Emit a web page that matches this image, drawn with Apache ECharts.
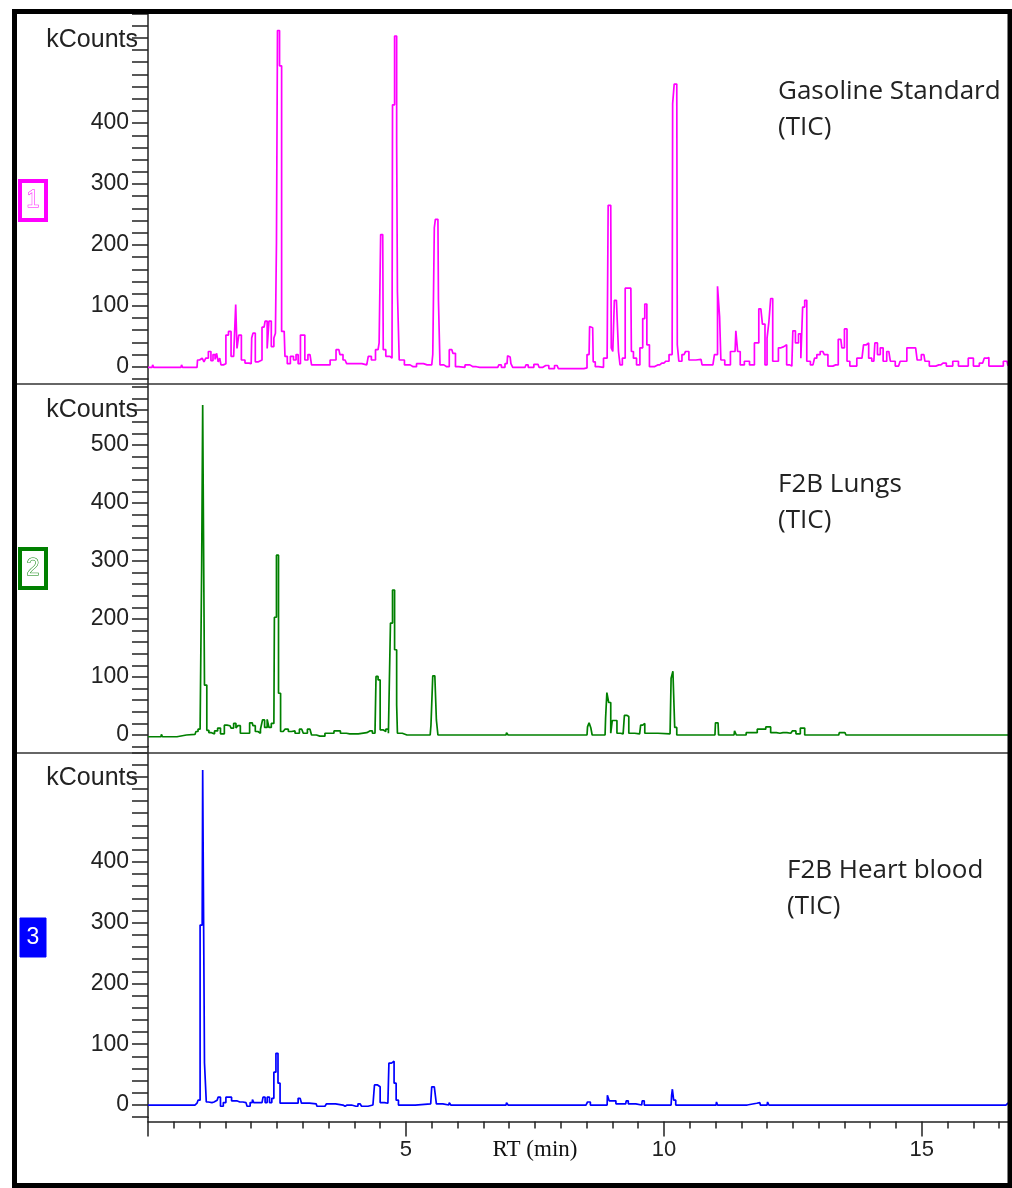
<!DOCTYPE html>
<html>
<head>
<meta charset="utf-8">
<script src="https://cdn.jsdelivr.net/npm/echarts@6/dist/echarts.min.js"></script>
<style>
  html, body { margin: 0; padding: 0; background: #ffffff; }
  #chart { width: 1012px; height: 1188px; }
</style>
</head>
<body>
<div id="chart"></div>
<script>
// Total ion chromatograms: [retention time (min), intensity (kCounts)]
const gasolineStandard = [
  [0.00,-1],[0.08,-1],[0.10,3],[0.12,-1],[0.64,-1],[0.66,3],[0.68,-1],[0.95,-1],[0.97,11],[1.03,14],
  [1.07,17],[1.10,8],[1.14,14],[1.20,25],[1.24,10],[1.28,20],[1.32,12],[1.34,22],[1.38,8],[1.40,14],
  [1.43,3],[1.49,5],[1.53,52],[1.59,58],[1.63,17],[1.69,20],[1.71,102],[1.74,30],[1.78,52],[1.84,11],
  [1.92,6],[2.00,5],[2.02,47],[2.05,55],[2.11,8],[2.17,11],[2.25,65],[2.29,75],[2.33,30],[2.36,75],
  [2.42,33],[2.46,47],[2.48,55],[2.50,202],[2.52,552],[2.54,552],[2.56,494],[2.58,494],[2.60,58],[2.64,58],
  [2.67,17],[2.73,5],[2.79,17],[2.85,11],[2.89,20],[2.93,5],[2.98,52],[3.02,52],[3.06,11],[3.14,20],
  [3.20,3],[3.33,3],[3.47,3],[3.59,11],[3.70,28],[3.74,20],[3.82,11],[3.88,5],[4.05,5],[4.24,3],
  [4.30,17],[4.36,11],[4.46,28],[4.50,39],[4.52,217],[4.55,217],[4.57,28],[4.65,17],[4.73,14],[4.75,430],
  [4.77,430],[4.79,543],[4.81,543],[4.83,368],[4.84,123],[4.86,123],[4.88,11],[4.92,11],[5.02,3],[5.14,0],
  [5.27,5],[5.41,3],[5.50,3],[5.54,20],[5.56,228],[5.58,242],[5.62,242],[5.64,110],[5.68,3],[5.79,0],
  [5.89,28],[5.93,22],[5.99,0],[6.05,-1],[6.24,3],[6.30,0],[6.43,-1],[6.78,-1],[6.82,3],[6.88,-1],
  [6.96,5],[6.98,18],[7.02,16],[7.05,5],[7.09,-1],[7.31,-1],[7.34,3],[7.40,-1],[7.56,4],[7.60,-1],
  [7.71,2],[7.83,-3],[7.93,2],[7.98,-3],[8.45,-3],[8.47,-2],[8.55,20],[8.57,66],[8.62,64],[8.64,8],
  [8.70,0],[8.76,-1],[8.90,14],[8.91,82],[8.93,265],[8.97,265],[8.99,31],[9.03,25],[9.05,109],[9.11,112],
  [9.13,25],[9.17,3],[9.22,14],[9.28,129],[9.36,129],[9.38,25],[9.44,14],[9.50,3],[9.57,31],[9.61,79],
  [9.65,103],[9.69,36],[9.75,0],[9.88,3],[9.96,6],[10.04,9],[10.16,20],[10.18,432],[10.19,432],[10.21,464],
  [10.25,464],[10.27,36],[10.31,9],[10.39,20],[10.45,25],[10.52,11],[10.72,12],[10.76,3],[10.95,3],[11.01,20],
  [11.07,132],[11.09,82],[11.12,11],[11.24,3],[11.34,25],[11.38,25],[11.41,59],[11.45,25],[11.51,3],[11.61,9],
  [11.71,3],[11.80,39],[11.88,95],[11.94,70],[11.98,3],[12.02,47],[12.05,73],[12.09,112],[12.13,9],[12.19,9],
  [12.25,31],[12.29,33],[12.36,36],[12.40,3],[12.48,1],[12.52,59],[12.58,39],[12.64,54],[12.67,14],[12.71,98],
  [12.75,109],[12.79,9],[12.89,3],[12.95,14],[12.98,20],[13.08,25],[13.14,20],[13.22,1],[13.33,3],[13.43,45],
  [13.47,31],[13.53,62],[13.57,9],[13.64,1],[13.84,14],[13.90,36],[13.95,39],[13.99,14],[14.07,9],[14.11,39],
  [14.17,20],[14.22,31],[14.28,9],[14.36,25],[14.42,9],[14.55,1],[14.61,9],[14.81,31],[14.88,31],[14.94,11],
  [15.04,20],[15.08,9],[15.21,1],[15.33,3],[15.41,6],[15.54,1],[15.66,9],[15.76,1],[15.85,1],[15.95,14],
  [16.05,1],[16.18,6],[16.24,14],[16.28,15],[16.32,1],[16.41,1],[16.51,1],[16.65,9],[16.69,2]
];

const lungs = [
  [0.00,-3],[0.25,-3],[0.27,1],[0.29,-3],[0.56,-3],[0.58,0],[0.91,1],[0.95,6],[0.99,10],[1.03,10],
  [1.05,287],[1.07,569],[1.09,569],[1.10,86],[1.12,86],[1.16,8],[1.20,4],[1.26,2],[1.32,7],[1.38,12],
  [1.43,2],[1.53,17],[1.59,16],[1.63,12],[1.69,20],[1.72,12],[1.76,16],[1.82,3],[1.92,3],[2.02,21],
  [2.05,16],[2.11,6],[2.15,3],[2.21,10],[2.23,26],[2.29,13],[2.33,27],[2.36,13],[2.42,20],[2.44,20],
  [2.46,203],[2.48,203],[2.50,310],[2.52,310],[2.54,72],[2.56,72],[2.58,6],[2.62,6],[2.69,10],[2.75,6],
  [2.81,7],[2.89,3],[2.98,10],[3.04,3],[3.14,10],[3.20,0],[3.33,-2],[3.53,3],[3.68,7],[3.78,3],
  [3.91,2],[4.24,4],[4.30,7],[4.40,3],[4.44,101],[4.48,95],[4.52,9],[4.59,6],[4.63,10],[4.69,3],
  [4.71,193],[4.73,193],[4.75,250],[4.77,250],[4.79,147],[4.81,147],[4.83,52],[4.84,3],[5.02,0],[5.47,0],
  [5.50,17],[5.54,102],[5.58,103],[5.60,26],[5.64,0],[6.94,0],[6.96,4],[7.00,0],[8.51,0],[8.53,14],
  [8.57,21],[8.60,12],[8.62,0],[8.86,0],[8.88,29],[8.91,73],[8.95,56],[8.99,3],[9.01,25],[9.07,25],
  [9.11,3],[9.21,2],[9.26,34],[9.30,32],[9.34,3],[9.53,2],[9.57,17],[9.61,20],[9.65,3],[10.12,2],
  [10.16,98],[10.19,110],[10.23,13],[10.27,0],[10.99,0],[11.01,21],[11.05,21],[11.07,0],[11.36,0],[11.38,7],
  [11.43,0],[11.76,4],[11.86,10],[11.92,10],[12.03,14],[12.11,4],[12.25,3],[12.31,4],[12.46,3],[12.52,7],
  [12.60,2],[12.69,12],[12.77,0],[13.39,0],[13.41,4],[13.51,4],[13.55,0],[16.69,0]
];

const heartBlood = [
  [0.00,0],[0.91,0],[0.95,3],[0.99,8],[1.03,296],[1.05,296],[1.07,551],[1.09,551],[1.10,69],[1.12,69],
  [1.14,5],[1.20,4],[1.28,5],[1.34,8],[1.38,13],[1.43,-2],[1.49,4],[1.53,13],[1.59,13],[1.65,7],
  [1.69,9],[1.72,7],[1.78,5],[1.90,4],[1.94,-2],[2.02,4],[2.03,9],[2.07,4],[2.21,4],[2.25,13],
  [2.29,4],[2.33,13],[2.38,4],[2.42,11],[2.46,54],[2.50,85],[2.54,36],[2.58,3],[2.87,3],[2.95,11],
  [3.00,3],[3.26,2],[3.29,-2],[3.43,-2],[3.49,2],[3.78,0],[3.82,-2],[3.86,0],[4.03,-2],[4.11,2],
  [4.17,-2],[4.36,0],[4.42,33],[4.48,30],[4.52,4],[4.65,3],[4.69,69],[4.75,72],[4.79,36],[4.83,8],
  [4.88,0],[5.48,2],[5.52,30],[5.58,30],[5.60,2],[5.83,0],[5.85,4],[5.89,0],[6.94,0],[6.96,4],
  [7.00,0],[8.49,0],[8.55,5],[8.60,0],[8.90,0],[8.91,16],[8.97,7],[9.03,7],[9.11,2],[9.26,2],
  [9.28,7],[9.34,2],[9.57,0],[9.59,7],[9.65,0],[10.14,0],[10.16,16],[10.17,26],[10.21,8],[10.25,0],
  [10.62,0],[10.64,3],[10.66,0],[11.01,0],[11.03,5],[11.05,0],[11.40,0],[11.41,3],[11.43,0],[11.80,3],
  [11.86,4],[11.88,0],[12.00,0],[12.02,5],[12.05,0],[12.50,0],[12.52,3],[12.54,0],[12.71,0],[12.73,3],
  [12.75,0],[13.24,0],[13.26,2],[13.28,0],[13.49,0],[13.51,3],[13.53,0],[13.78,0],[13.80,2],[13.82,0],
  [15.19,0],[15.21,3],[15.23,0],[16.63,0],[16.65,3],[16.69,3]
];

const runTraces = [gasolineStandard, lungs, heartBlood];
const runNames = ['Gasoline Standard', 'F2B Lungs', 'F2B Heart blood'];
const runNumbers = ['1', '2', '3'];
const runColors = ['#ff00ff', '#008000', '#0000ff'];
const yLabelTop = [400, 500, 400];       // highest labelled tick per panel (kCounts)
const yRanges = [[-20, 579.1], [-20, 614], [-20, 589.5]];
const rtRange = [0, 16.69];
const rtLabels = [5, 10, 15];

// Panel geometry in pixels (top edge, bottom edge of each plot area)
const panelBox = [[14, 378.9], [378.9, 746.6], [746.6, 1117.2]];
const axisBottom = 1121.5;
const plotLeft = 148, plotRight = 1009;

const ink = '#222222';
const tickFont = 'Liberation Sans, Arial, sans-serif';
const noteFont = '"Open Sans", "Noto Sans", sans-serif';

const grids = [], xAxes = [], yAxes = [], series = [];
panelBox.forEach((b, i) => {
  grids.push({ left: plotLeft, width: plotRight - plotLeft, top: b[0], height: b[1] - b[0] });
  xAxes.push({ gridIndex: i, type: 'value', min: rtRange[0], max: rtRange[1], show: false });
  yAxes.push({
    gridIndex: i, type: 'value', min: yRanges[i][0], max: yRanges[i][1], interval: 20,
    axisLine: { show: true, lineStyle: { color: ink, width: 1.5 } },
    axisTick: { show: true, length: 16, lineStyle: { color: ink, width: 1.5 } },
    axisLabel: {
      margin: 19, color: ink, fontFamily: tickFont, fontSize: 23,
      formatter: (v) => (Math.abs(v % 100) < 1e-6 && v >= 0 && v <= yLabelTop[i]) ? String(Math.round(v)) : ''
    },
    splitLine: { show: false }
  });
  series.push({
    type: 'line', xAxisIndex: i, yAxisIndex: i, data: runTraces[i], step: 'middle',
    showSymbol: false, symbol: 'none', animation: false, sampling: null,
    lineStyle: { color: runColors[i], width: 1.7 }, z: 3
  });
});

// Shared retention-time axis under the last panel
grids.push({ left: plotLeft, width: plotRight - plotLeft, top: panelBox[2][1], height: axisBottom - panelBox[2][1] });
xAxes.push({
  gridIndex: 3, type: 'value', min: rtRange[0], max: rtRange[1], interval: 5,
  axisLine: { show: true, lineStyle: { color: ink, width: 1.5 } },
  axisTick: { show: true, length: 15, lineStyle: { color: ink, width: 1.5 } },
  minorTick: { show: true, splitNumber: 10, length: 7, lineStyle: { color: ink, width: 1.5 } },
  axisLabel: {
    margin: 17, color: ink, fontFamily: tickFont, fontSize: 22,
    formatter: (v) => rtLabels.indexOf(Math.round(v)) >= 0 && Math.abs(v - Math.round(v)) < 1e-6 ? String(Math.round(v)) : ''
  },
  splitLine: { show: false }
});
yAxes.push({
  gridIndex: 3, type: 'value', min: 0, max: 1,
  axisLine: { show: true, lineStyle: { color: ink, width: 1.5 } },
  axisTick: { show: false }, axisLabel: { show: false }, splitLine: { show: false }
});

const graphics = [];
// Outer frame
graphics.push({ type: 'rect', shape: { x: 14.5, y: 11.5, width: 995.5, height: 1174 },
  style: { fill: 'none', stroke: '#000', lineWidth: 5 }, z: 10 });
// Panel separators
[384, 753].forEach(y => graphics.push({ type: 'line', shape: { x1: 17, y1: y, x2: 1008, y2: y },
  style: { stroke: '#333', lineWidth: 1.5 }, z: 5 }));

const kCountsY = [40, 410, 778];
const badgeTop = [181, 549, 918];
const noteLeft = [778, 778, 787];
const noteY = [92, 485, 871];
runNames.forEach((name, i) => {
  graphics.push({ type: 'text', x: 138, y: kCountsY[i],
    style: { text: 'kCounts', font: '25px ' + tickFont, fill: ink, align: 'right', verticalAlign: 'middle',
             textAlign: 'right', textVerticalAlign: 'middle' }, z: 6 });
  const filled = i === 2;
  graphics.push({ type: 'rect', shape: { x: 20, y: badgeTop[i], width: 26, height: 39 },
    style: { fill: filled ? runColors[i] : '#ffffff', stroke: runColors[i], lineWidth: filled ? 1 : 4 }, z: 6 });
  graphics.push({ type: 'text', x: 33, y: badgeTop[i] + 20,
    style: { text: runNumbers[i], font: '23px ' + tickFont,
             fill: '#ffffff', stroke: filled ? null : runColors[i], lineWidth: filled ? 0 : 1,
             align: 'center', verticalAlign: 'middle', textAlign: 'center', textVerticalAlign: 'middle' }, z: 7 });
  graphics.push({ type: 'text', x: noteLeft[i], y: noteY[i],
    style: { text: name, font: '26px ' + noteFont, fill: ink, align: 'left', verticalAlign: 'middle',
             textAlign: 'left', textVerticalAlign: 'middle' }, z: 6 });
  graphics.push({ type: 'text', x: noteLeft[i], y: noteY[i] + 36,
    style: { text: '(TIC)', font: '26px ' + noteFont, fill: ink, align: 'left', verticalAlign: 'middle',
             textAlign: 'left', textVerticalAlign: 'middle' }, z: 6 });
});
graphics.push({ type: 'text', x: 535, y: 1150,
  style: { text: 'RT (min)', font: '23px "Liberation Serif", "Times New Roman", serif', fill: '#111',
           align: 'center', verticalAlign: 'middle', textAlign: 'center', textVerticalAlign: 'middle' }, z: 6 });

const chart = echarts.init(document.getElementById('chart'), null, { renderer: 'canvas' });
chart.setOption({
  animation: false,
  backgroundColor: '#ffffff',
  grid: grids,
  xAxis: xAxes,
  yAxis: yAxes,
  series: series,
  graphic: graphics
});
</script>
</body>
</html>
